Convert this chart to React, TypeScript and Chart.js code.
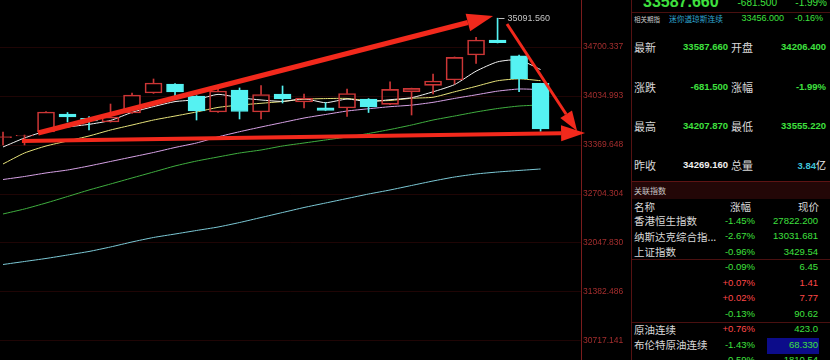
import React, { useEffect, useRef } from 'react';
import { Chart, registerables } from 'chart.js';

Chart.register(...registerables);

// Daily candles, oldest first (last one is today's session)
const OPEN = [33470, 33494, 33546, 33791, 33732, 33682, 33804, 34076, 34198, 34035, 33818, 34116, 33818, 34062, 33954, 33876, 33872, 33994, 33922, 34093, 34180, 34252, 34592, 34795, 34582, 34206.4];
const HIGH = [33545, 33505, 33825, 33811, 33757, 33926, 34076, 34266, 34205, 34040, 34144, 34144, 34178, 34171, 34062, 33944, 34130, 34000, 34229, 34142, 34334, 34565, 34832, 35091.56, 34590, 34207.87];
const LOW = [33372, 33370, 33540, 33682, 33573, 33680, 33800, 34070, 34035, 33709, 33812, 33723, 33723, 33940, 33872, 33835, 33757, 33811, 33918, 33777, 34062, 34198, 34479, 34755, 34093, 33555.22];
const CLOSE = [33484, 33500, 33818, 33750, 33696, 33750, 34049, 34212, 34089, 33831, 34103, 33825, 34055, 33994, 34008, 33838, 34069, 33886, 34126, 34139.5, 34239, 34560, 34795, 34759, 34269.16, 33587.66];

// Moving averages
const MA5 = [33343, 33465, 33560, 33614, 33650, 33703, 33813, 33891, 33959, 33986, 34057, 34012, 33981, 33962, 33997, 33944, 33993, 33959, 33985, 34012, 34092, 34190, 34372, 34499, 34525, 34394];
const MA10 = [33112, 33261, 33356, 33424, 33492, 33573, 33641, 33709, 33763, 33818, 33880, 33912, 33936, 33960, 33992, 34000, 34002, 33970, 33974, 34004, 34018, 34092, 34166, 34242, 34268, 34243];
const MA20 = [32901, 32942, 32990, 33030, 33085, 33146, 33207, 33268, 33336, 33397, 33480, 33550, 33614, 33675, 33736, 33784, 33831, 33862, 33890, 33911, 33949, 34002, 34051, 34101, 34130, 34122];
const MA60 = [32433, 32501, 32582, 32670, 32759, 32840, 32922, 33003, 33085, 33152, 33207, 33261, 33302, 33356, 33397, 33438, 33478, 33526, 33580, 33641, 33709, 33763, 33818, 33865, 33899, 33913];
const MA120 = [31747, 31788, 31829, 31876, 31924, 31985, 32053, 32114, 32161, 32209, 32256, 32317, 32385, 32453, 32521, 32582, 32643, 32704, 32759, 32820, 32881, 32935, 32976, 33003, 33024, 33044];

// Price axis labels
const AXIS_LABELS = ['35365.681', '34700.337', '34034.993', '33369.648', '32704.304', '32047.830', '31382.486', '30717.141'];

// Hand-drawn trend arrows, in (candle index, price) coordinates
const ARROW_FROM_X = [1.63, 23.44, 0.88];
const ARROW_FROM_Y = [33533, 35013, 33424];
const ARROW_TO_X = [22.79, 26.7, 27.07];
const ARROW_TO_Y = [35121, 33560, 33533];

// Quote panel
const LAST = '33587.660';
const CHANGE = '-681.500';
const CHANGE_PCT = '-1.99%';
const FUT_VALUE = '33456.000';
const FUT_PCT = '-0.16%';
const QUOTE_LABELS_L = ['最新', '涨跌', '最高', '昨收'];
const QUOTE_VALUES_L = ['33587.660', '-681.500', '34207.870', '34269.160'];
const QUOTE_LABELS_R = ['开盘', '涨幅', '最低', '总量'];
const QUOTE_VALUES_R = ['34206.400', '-1.99%', '33555.220', '3.84'];

// Related indices
const REL_NAMES = ['香港恒生指数', '纳斯达克综合指...', '上证指数', '', '', '', '', '原油连续', '布伦特原油连续', ''];
const REL_PCT = ['-1.45%', '-2.67%', '-0.96%', '-0.09%', '+0.07%', '+0.02%', '-0.13%', '+0.76%', '-1.43%', '-0.59%'];
const REL_PRICE = ['27822.200', '13031.681', '3429.54', '6.45', '1.41', '7.77', '90.62', '423.0', '68.330', '1810.54'];
const REL_PRICE_UP = [false, false, false, false, true, true, false, false, false, false];

const UP = '#cc3636';
const DOWN = '#55f2f2';
const GREEN = '#3fe03f';
const RED = '#ff4848';
const LABEL = '#d8d8d8';

const Y_MIN = 30314.6;
const Y_MAX = 35474.3;

const idx = OPEN.map((_, i) => i);
const isUp = idx.map((i) => CLOSE[i] >= OPEN[i]);
const candleColor = idx.map((i) => (isUp[i] ? UP : DOWN));

const overlay = {
  id: 'overlay',
  afterDraw(chart: any) {
    const { ctx } = chart;
    const xs = chart.scales.x;
    const ys = chart.scales.y;
    ctx.save();
    // highest-high marker
    let k = 0;
    HIGH.forEach((h, i) => {
      if (h > HIGH[k]) k = i;
    });
    const hx = Math.round(xs.getPixelForValue(k)) + 0.5;
    const hy = Math.round(ys.getPixelForValue(HIGH[k])) + 0.5;
    ctx.strokeStyle = '#bdbdbd';
    ctx.lineWidth = 1;
    ctx.beginPath();
    ctx.moveTo(hx, hy);
    ctx.lineTo(hx + 6, hy);
    ctx.stroke();
    ctx.fillStyle = '#c4c4c4';
    ctx.font = '9px "Liberation Sans", Arial, sans-serif';
    ctx.textBaseline = 'middle';
    ctx.textAlign = 'left';
    ctx.fillText(HIGH[k].toFixed(3), hx + 9, hy);

    // arrows
    const widths = [5, 3, 4];
    const heads = [26, 20, 24];
    const halves = [9, 7, 8];
    ctx.strokeStyle = '#f2291c';
    ctx.fillStyle = '#f2291c';
    ARROW_FROM_X.forEach((_, a) => {
      const x0 = xs.getPixelForValue(ARROW_FROM_X[a]);
      const y0 = ys.getPixelForValue(ARROW_FROM_Y[a]);
      const x1 = xs.getPixelForValue(ARROW_TO_X[a]);
      const y1 = ys.getPixelForValue(ARROW_TO_Y[a]);
      const ang = Math.atan2(y1 - y0, x1 - x0);
      const bx = x1 - Math.cos(ang) * heads[a];
      const by = y1 - Math.sin(ang) * heads[a];
      ctx.lineWidth = widths[a];
      ctx.beginPath();
      ctx.moveTo(x0, y0);
      ctx.lineTo(bx, by);
      ctx.stroke();
      const nx = -Math.sin(ang) * halves[a];
      const ny = Math.cos(ang) * halves[a];
      ctx.beginPath();
      ctx.moveTo(x1, y1);
      ctx.lineTo(bx + nx, by + ny);
      ctx.lineTo(bx - nx, by - ny);
      ctx.closePath();
      ctx.fill();
    });
    ctx.restore();
  },
};

function maLine(values: number[], color: string) {
  return {
    type: 'line' as const,
    data: values.map((v, i) => ({ x: i, y: v })),
    borderColor: color,
    borderWidth: 1,
    pointRadius: 0,
    tension: 0.2,
    order: 3,
  };
}

const NUM = '"Liberation Sans", Arial, sans-serif';
const CJK = '"Noto Sans CJK SC", "Noto Sans", sans-serif';

function T(props: {
  x?: number;
  right?: number;
  y: number;
  size: number;
  color: string;
  font?: string;
  bold?: boolean;
  children: React.ReactNode;
}) {
  const lh = Math.ceil(props.size * 1.4);
  const style: React.CSSProperties = {
    position: 'absolute',
    top: props.y - lh / 2,
    fontSize: props.size,
    lineHeight: lh + 'px',
    color: props.color,
    fontFamily: props.font || NUM,
    fontWeight: props.bold ? 700 : 400,
    whiteSpace: 'nowrap',
  };
  if (props.right !== undefined) style.right = 830 - props.right;
  else style.left = props.x;
  return <div style={style}>{props.children}</div>;
}

function Rule(props: { x: number; y: number; w: number; h: number; c: string }) {
  return (
    <div
      style={{ position: 'absolute', left: props.x, top: props.y, width: props.w, height: props.h, background: props.c }}
    />
  );
}

export default function App() {
  const ref = useRef<HTMLCanvasElement>(null);

  useEffect(() => {
    const chart = new Chart(ref.current as HTMLCanvasElement, {
      type: 'bar',
      data: {
        datasets: [
          {
            type: 'bar',
            data: idx.map((i) => ({ x: i, y: [OPEN[i], CLOSE[i]] })),
            backgroundColor: idx.map((i) => (isUp[i] ? 'rgba(0,0,0,0)' : DOWN)),
            borderColor: candleColor,
            borderWidth: 1,
            borderSkipped: false,
            barThickness: 17,
            grouped: false,
            order: 1,
          } as any,
          {
            type: 'bar',
            data: idx.map((i) => ({ x: i, y: [Math.max(OPEN[i], CLOSE[i]), HIGH[i]] })),
            backgroundColor: candleColor,
            borderWidth: 0,
            barThickness: 1,
            grouped: false,
            order: 2,
          } as any,
          {
            type: 'bar',
            data: idx.map((i) => ({ x: i, y: [LOW[i], Math.min(OPEN[i], CLOSE[i])] })),
            backgroundColor: candleColor,
            borderWidth: 0,
            barThickness: 1,
            grouped: false,
            order: 2,
          } as any,
          maLine(MA5, '#f2f2f2') as any,
          maLine(MA10, '#e6e27a') as any,
          maLine(MA20, '#d7a2e6') as any,
          maLine(MA60, '#3fae3f') as any,
          maLine(MA120, '#7cc9d6') as any,
        ],
      },
      options: {
        animation: false,
        responsive: false,
        devicePixelRatio: 1,
        events: [],
        layout: { padding: 0 },
        plugins: { legend: { display: false }, tooltip: { enabled: false } },
        scales: {
          x: { type: 'linear', min: -0.14, max: 26.88, display: false, offset: false },
          y: {
            position: 'right',
            min: Y_MIN,
            max: Y_MAX,
            afterBuildTicks: (s: any) => {
              s.ticks = AXIS_LABELS.map((l) => ({ value: parseFloat(l) }));
            },
            afterFit: (s: any) => {
              s.width = 49;
              s.paddingTop = 0;
              s.paddingBottom = 0;
            },
            grid: { color: 'rgba(95,16,16,0.32)', drawTicks: false, lineWidth: 1 },
            border: { color: '#7a1c1c' },
            ticks: {
              color: '#a52e2e',
              font: { size: 8.5, family: 'Liberation Sans' },
              padding: 2,
              autoSkip: false,
              callback: (_v: any, i: number) => AXIS_LABELS[i],
            },
          },
        },
      } as any,
      plugins: [overlay],
    });
    return () => chart.destroy();
  }, []);

  const rowY = [47, 87, 126, 165];
  const relY = REL_NAMES.map((_, i) => 220.7 + i * 15.5);

  return (
    <div
      style={{ position: 'fixed', left: 0, top: 0, width: 830, height: 360, background: '#000', overflow: 'hidden' }}
    >
      <canvas
        ref={ref}
        width={630}
        height={380}
        style={{ position: 'absolute', left: 0, top: -10, width: 630, height: 380 }}
      />

      <Rule x={631} y={0} w={1} h={360} c="#551212" />
      <Rule x={632} y={12} w={198} h={1} c="#4a1010" />

      <T x={643} y={1.5} size={16} color={GREEN} bold>
        {LAST}
      </T>
      <T right={777} y={2.5} size={10} color={GREEN}>
        {CHANGE}
      </T>
      <T right={827} y={2.5} size={10} color={GREEN}>
        {CHANGE_PCT}
      </T>

      <T x={634} y={18.5} size={6.5} color="#c8c8c8" font={CJK}>
        相关期指
      </T>
      <T x={669} y={18.5} size={7.7} color="#2fa6d0" font={CJK}>
        迷你道琼斯连续
      </T>
      <T right={784} y={18.5} size={9} color={GREEN}>
        {FUT_VALUE}
      </T>
      <T right={823} y={18.5} size={9} color={GREEN}>
        {FUT_PCT}
      </T>

      {rowY.map((y, i) => (
        <React.Fragment key={'q' + i}>
          <T x={634} y={y} size={11} color={LABEL} font={CJK}>
            {QUOTE_LABELS_L[i]}
          </T>
          <T right={728} y={y} size={9.5} color={i === 3 ? '#f0f0f0' : GREEN} bold>
            {QUOTE_VALUES_L[i]}
          </T>
          <T x={731} y={y} size={11} color={LABEL} font={CJK}>
            {QUOTE_LABELS_R[i]}
          </T>
          <T right={826} y={y} size={9.5} color={i === 3 ? '#3fc4d8' : GREEN} bold>
            {QUOTE_VALUES_R[i]}
            {i === 3 ? <span style={{ color: '#e8e8e8', fontFamily: CJK, fontWeight: 400, fontSize: 10 }}>亿</span> : null}
          </T>
        </React.Fragment>
      ))}

      <Rule x={632} y={181} w={198} h={18} c="#230707" />
      <Rule x={632} y={181} w={198} h={1} c="#5e1414" />
      <T x={634} y={191} size={8} color="#c8c8c8" font={CJK}>
        关联指数
      </T>
      <T x={634} y={206} size={10.5} color={LABEL} font={CJK}>
        名称
      </T>
      <T right={751} y={206} size={10.5} color={LABEL} font={CJK}>
        涨幅
      </T>
      <T right={819} y={206} size={10.5} color={LABEL} font={CJK}>
        现价
      </T>

      <Rule x={632} y={259} w={198} h={1} c="#4a1010" />
      <Rule x={632} y={322} w={198} h={1} c="#4a1010" />
      <Rule x={767} y={338} w={52} h={16} c="#0c0c8a" />

      {relY.map((y, i) => (
        <React.Fragment key={'r' + i}>
          {REL_NAMES[i] ? (
            <T x={634} y={y} size={10.5} color={LABEL} font={CJK}>
              {REL_NAMES[i]}
            </T>
          ) : null}
          <T right={755} y={y} size={9.5} color={REL_PCT[i][0] === '+' ? RED : GREEN}>
            {REL_PCT[i]}
          </T>
          <T right={818} y={y} size={9.5} color={REL_PRICE_UP[i] ? RED : GREEN}>
            {REL_PRICE[i]}
          </T>
        </React.Fragment>
      ))}
    </div>
  );
}
